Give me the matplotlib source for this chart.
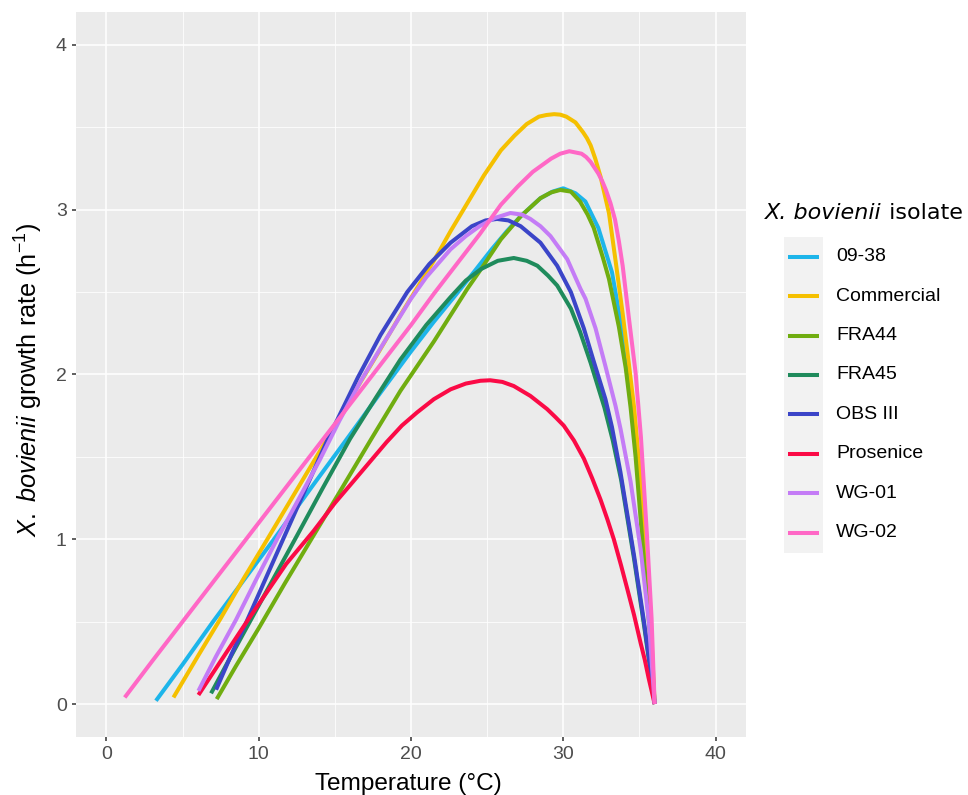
import matplotlib
matplotlib.use("Agg")
import matplotlib.pyplot as plt
from matplotlib.lines import Line2D
from matplotlib.patches import Rectangle

plt.rcParams['font.family'] = 'Liberation Sans'
plt.rcParams['mathtext.fontset'] = 'custom'
plt.rcParams['mathtext.rm'] = 'Liberation Sans'
plt.rcParams['mathtext.it'] = 'Liberation Sans:italic'

# growth curves (temperature in C, rate in 1/h)
temp_0938 = [3.25, 5.0, 7.0, 9.0, 11.0, 13.5, 15.8, 18.0, 20.0, 21.5, 23.0, 24.2, 25.3, 26.3,
             27.2, 28.5, 29.3, 30.0, 30.8, 31.45, 32.3, 33.2, 33.75, 34.2, 34.55, 34.9, 35.3, 35.68, 36.0]
rate_0938 = [0.02, 0.24, 0.50, 0.75, 1.00, 1.32, 1.61, 1.89, 2.14, 2.32, 2.49, 2.63, 2.76, 2.87,
             2.96, 3.07, 3.11, 3.13, 3.10, 3.05, 2.89, 2.62, 2.33, 2.05, 1.77, 1.45, 1.00, 0.50, 0.0]

temp_commercial = [4.4, 6.0, 7.5, 9.0, 10.5, 12.5, 14.5, 16.2, 17.9, 19.3, 20.5, 21.5, 22.6, 23.7,
                   24.8, 25.9, 26.8, 27.6, 28.4, 28.9, 29.4, 29.8, 30.2, 30.8, 31.3, 31.55, 31.8,
                   32.1, 32.45, 32.7, 33.0, 33.45, 33.9, 34.3, 34.65, 34.95, 35.2, 35.45, 35.73, 36.0]
rate_commercial = [0.04, 0.29, 0.52, 0.76, 0.99, 1.30, 1.61, 1.88, 2.14, 2.36, 2.54, 2.69, 2.87, 3.04,
                   3.21, 3.36, 3.45, 3.52, 3.565, 3.575, 3.58, 3.577, 3.565, 3.53, 3.47, 3.435, 3.39,
                   3.31, 3.20, 3.10, 2.98, 2.68, 2.37, 2.07, 1.80, 1.50, 1.22, 0.92, 0.52, 0.0]

temp_fra44 = [7.24, 8.5, 10.0, 11.7, 13.45, 15.4, 17.4, 19.3, 20.4, 21.5, 22.6, 23.7, 24.6, 25.9,
              27.2, 28.5, 29.2, 29.8, 30.5, 31.1, 31.6, 32.0, 32.6, 33.0, 33.65, 34.1, 34.42, 34.75,
              35.1, 35.45, 35.75, 36.0]
rate_fra44 = [0.03, 0.23, 0.46, 0.73, 1.00, 1.30, 1.61, 1.90, 2.05, 2.20, 2.36, 2.52, 2.64, 2.82,
              2.96, 3.07, 3.105, 3.12, 3.11, 3.05, 2.97, 2.89, 2.71, 2.58, 2.29, 2.04, 1.80, 1.50,
              1.10, 0.70, 0.35, 0.0]

temp_fra45 = [6.87, 8.0, 9.3, 10.9, 12.5, 14.2, 16.0, 17.7, 19.3, 21.0, 22.6, 23.6, 24.6, 25.7,
              26.75, 27.6, 28.3, 29.0, 29.6, 30.5, 31.1, 31.8, 32.7, 33.25, 33.8, 34.65, 35.3, 35.85, 36.0]
rate_fra45 = [0.065, 0.26, 0.48, 0.75, 1.02, 1.31, 1.61, 1.86, 2.09, 2.30, 2.47, 2.57, 2.64, 2.69,
              2.707, 2.69, 2.66, 2.60, 2.54, 2.40, 2.26, 2.07, 1.80, 1.60, 1.36, 0.88, 0.48, 0.12, 0.0]

temp_obs3 = [7.2, 8.2, 9.2, 10.4, 11.6, 13.0, 14.5, 16.5, 18.0, 19.75, 21.2, 22.6, 24.0, 24.9,
             25.65, 26.4, 27.2, 28.5, 29.6, 30.5, 31.35, 32.0, 32.77, 33.2, 33.75, 34.65, 35.3, 35.85, 36.0]
rate_obs3 = [0.087, 0.30, 0.50, 0.75, 1.00, 1.29, 1.60, 1.98, 2.24, 2.50, 2.67, 2.80, 2.90, 2.935,
             2.944, 2.935, 2.90, 2.80, 2.66, 2.50, 2.28, 2.08, 1.85, 1.68, 1.41, 0.90, 0.50, 0.13, 0.0]

temp_prosenice = [6.04, 7.5, 9.0, 10.1, 11.8, 13.6, 15.0, 16.2, 17.3, 18.4, 19.4, 20.4, 21.5, 22.6,
                  23.6, 24.56, 25.2, 26.0, 26.75, 27.84, 28.94, 29.5, 30.03, 30.7, 31.35, 31.9, 32.45,
                  32.9, 33.32, 33.8, 34.2, 34.65, 35.08, 35.35, 35.6, 36.0]
rate_prosenice = [0.055, 0.26, 0.47, 0.62, 0.85, 1.05, 1.22, 1.35, 1.47, 1.59, 1.69, 1.77, 1.85, 1.91,
                  1.945, 1.962, 1.965, 1.955, 1.93, 1.87, 1.79, 1.74, 1.69, 1.60, 1.49, 1.37, 1.24,
                  1.12, 1.00, 0.84, 0.70, 0.54, 0.37, 0.27, 0.16, 0.0]

temp_wg01 = [6.04, 7.2, 8.5, 9.8, 11.2, 12.6, 14.0, 15.3, 16.7, 18.0, 19.0, 20.0, 21.0, 22.6, 23.6,
             24.5, 25.5, 26.53, 27.3, 27.84, 28.5, 29.16, 30.26, 31.13, 31.46, 32.12, 32.77, 33.43,
             33.76, 34.42, 35.08, 35.62, 36.0]
rate_wg01 = [0.08, 0.29, 0.51, 0.75, 1.00, 1.24, 1.48, 1.72, 1.96, 2.16, 2.31, 2.46, 2.59, 2.76, 2.84,
             2.90, 2.95, 2.98, 2.97, 2.944, 2.90, 2.84, 2.70, 2.52, 2.46, 2.28, 2.05, 1.81,
             1.67, 1.35, 0.94, 0.50, 0.0]

temp_wg02 = [1.2, 3.0, 5.0, 7.5, 10.0, 12.5, 15.0, 17.5, 20.0, 21.5, 23.0, 24.5, 25.9, 27.0, 28.0,
             29.2, 29.8, 30.4, 31.2, 31.5, 31.8, 32.3, 32.55, 32.8, 33.1, 33.4, 33.65, 33.9, 34.3,
             34.75, 35.1, 35.5, 35.8, 36.0]
rate_wg02 = [0.04, 0.26, 0.50, 0.80, 1.10, 1.40, 1.70, 2.00, 2.30, 2.49, 2.67, 2.85, 3.03, 3.14, 3.23,
             3.31, 3.34, 3.355, 3.34, 3.32, 3.29, 3.22, 3.175, 3.12, 3.04, 2.94, 2.81, 2.66, 2.35,
             2.01, 1.62, 1.02, 0.52, 0.0]

isolates = ['09-38', 'Commercial', 'FRA44', 'FRA45', 'OBS III', 'Prosenice', 'WG-01', 'WG-02']
colors = ['#1DB5EA', '#F5C000', '#70AD10', '#1F8B5C', '#3B45C8', '#FB0A46', '#C47CF6', '#FF68C6']
temps = [temp_0938, temp_commercial, temp_fra44, temp_fra45, temp_obs3, temp_prosenice, temp_wg01, temp_wg02]
rates = [rate_0938, rate_commercial, rate_fra44, rate_fra45, rate_obs3, rate_prosenice, rate_wg01, rate_wg02]

W, H = 968, 795
fig = plt.figure(figsize=(W / 100, H / 100), dpi=100)
ax = fig.add_axes([76 / W, 58 / H, 670 / W, 725 / H])

ax.set_facecolor('#EBEBEB')
for s in ax.spines.values():
    s.set_visible(False)
ax.set_xlim(-2, 42)
ax.set_ylim(-0.2, 4.2)
ax.set_xticks([0, 10, 20, 30, 40])
ax.set_xticks([5, 15, 25, 35], minor=True)
ax.set_yticks([0, 1, 2, 3, 4])
ax.set_yticks([0.5, 1.5, 2.5, 3.5], minor=True)
ax.grid(which='major', color='white', lw=1.1)
ax.grid(which='minor', color='white', lw=0.55)
ax.set_axisbelow(True)
ax.tick_params(which='major', length=3.2, width=1.1, color='#333333',
               labelcolor='#4D4D4D', labelsize=14, pad=3.5)
ax.tick_params(which='minor', length=0)

for T, r, c in zip(temps, rates, colors):
    ax.plot(T, r, color=c, lw=2.9, solid_capstyle='butt', solid_joinstyle='round')

# axis titles
fig.text(408 / W, 5 / H, 'Temperature (°C)', ha='center', va='baseline', fontsize=17.6)
fig.text(29 / W, 1 - 380 / H, r'$\it{X.}$ $\it{bovienii}$ growth rate (h$^{-1}$)',
         rotation=90, ha='center', va='center', fontsize=18.2)

# legend, drawn ggplot-like with a grey key column
t1 = fig.text(765 / W, 1 - 213 / H, 'X. bovienii', ha='left', va='center',
              fontsize=16, family='DejaVu Sans', style='italic')
renderer = fig.canvas.get_renderer()
x_end = t1.get_window_extent(renderer).x1
fig.text(x_end / W, 1 - 213 / H, ' isolate', ha='left', va='center',
         fontsize=16, family='DejaVu Sans')
fig.add_artist(Rectangle((784 / W, 1 - 553 / H), 39 / W, 316 / H,
                         transform=fig.transFigure, facecolor='#F2F2F2', edgecolor='none'))
for i, (name, c) in enumerate(zip(isolates, colors)):
    yk = 1 - (256.7 + 39.4 * i) / H
    fig.add_artist(Line2D([788 / W, 819 / W], [yk, yk], transform=fig.transFigure,
                          color=c, lw=2.9, solid_capstyle='butt'))
    fig.text(836 / W, yk, name, ha='left', va='center', fontsize=14, color='black')

fig.savefig('out.png', dpi=100)
